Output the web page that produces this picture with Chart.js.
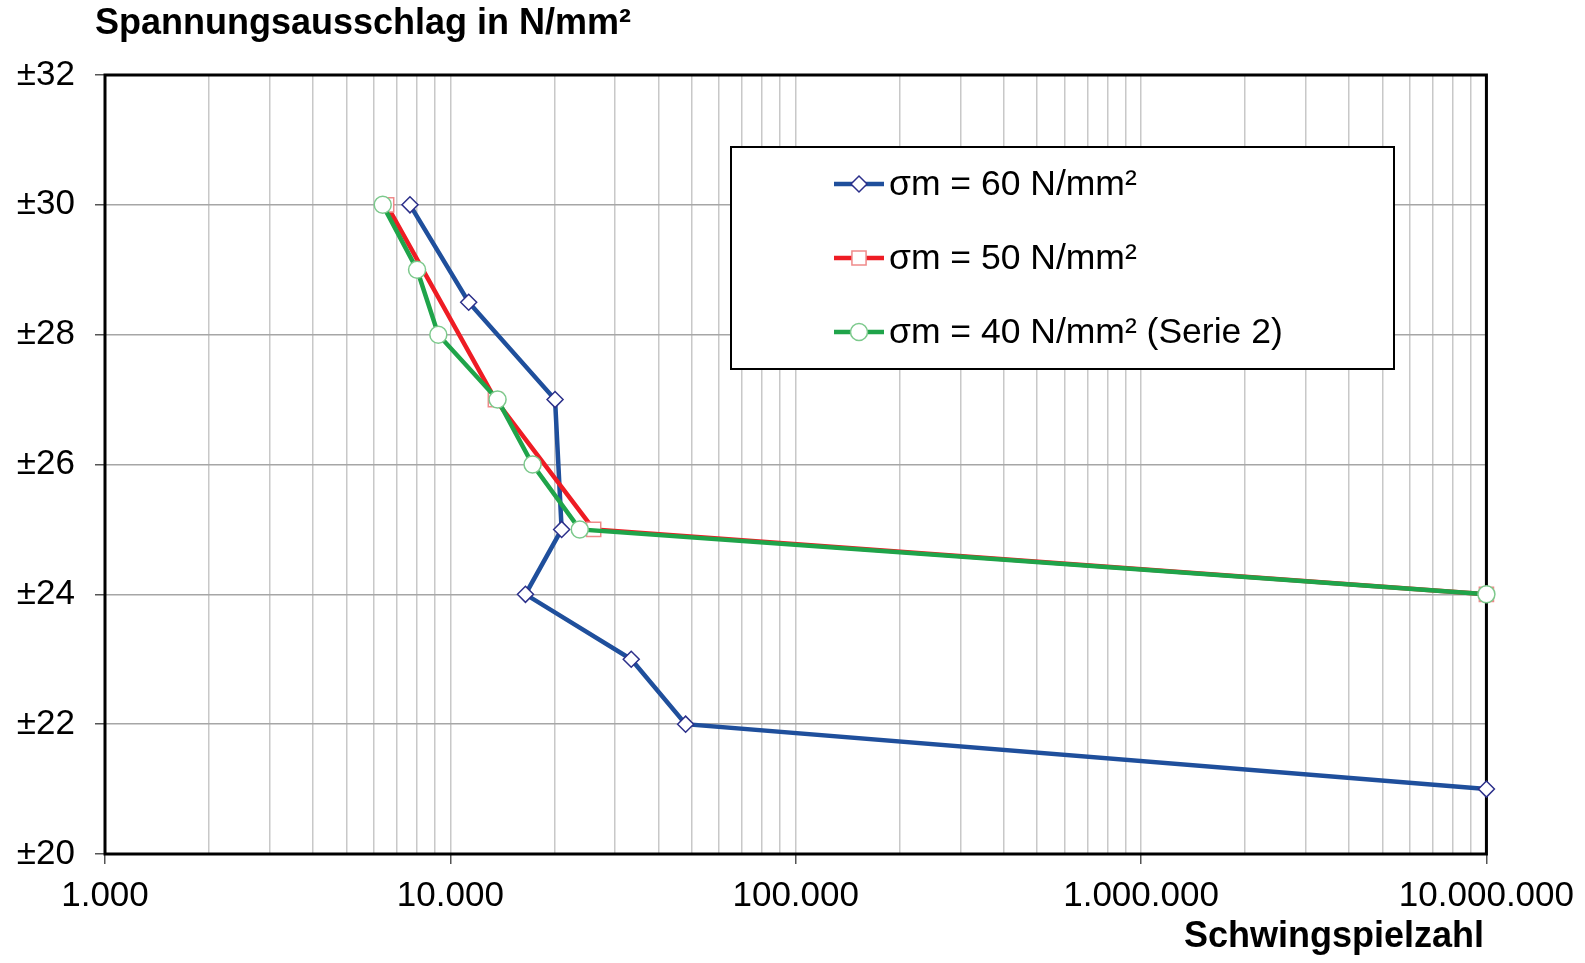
<!DOCTYPE html>
<html>
<head>
<meta charset="utf-8">
<script src="https://cdn.jsdelivr.net/npm/chart.js@4"></script>
<style>
  html, body { margin: 0; padding: 0; background: #fff; }
  #wrap { width: 1585px; height: 963px; }
</style>
</head>
<body>
<div id="wrap"><canvas id="sn-chart" width="1585" height="963"></canvas></div>
<script>
// Wöhler data
const yTicks = [20, 22, 24, 26, 28, 30, 32];
const xDecades = [1000, 10000, 100000, 1000000, 10000000];

const label60 = 'σm = 60 N/mm²';
const cycles60 = [7640, 11300, 20100, 21000, 16500, 33400, 48000, 10000000];
const stress60 = [30, 28.5, 27, 25, 24, 23, 22, 21];

const label50 = 'σm = 50 N/mm²';
const cycles50 = [6540, 13500, 26000, 10000000];
const stress50 = [30, 27, 25, 24];

const label40 = 'σm = 40 N/mm² (Serie 2)';
const cycles40 = [6370, 8010, 9230, 13700, 17300, 23700, 10000000];
const stress40 = [30, 29, 28, 27, 26, 25, 24];

const FONT = 'Liberation Sans, Arial, sans-serif';

function toPoints(xs, ys) {
    return xs.map((x, i) => ({ x: x, y: ys[i] }));
}

function isDecade(v) {
    return xDecades.indexOf(v) !== -1;
}

function fmtDots(v) {
    return String(v).replace(/\B(?=(\d{3})+(?!\d))/g, '.');
}

// Frame around the plot area, drawn under the lines
const framePlugin = {
    id: 'frame',
    beforeDatasetsDraw(chart) {
        const a = chart.chartArea;
        const ctx = chart.ctx;
        ctx.save();
        ctx.strokeStyle = '#000';
        ctx.lineWidth = 3;
        ctx.strokeRect(a.left, a.top, a.right - a.left, a.bottom - a.top);
        ctx.restore();
    }
};

// Axis titles and the boxed legend
const textPlugin = {
    id: 'texts',
    afterDraw(chart) {
        const ctx = chart.ctx;
        ctx.save();
        ctx.fillStyle = '#000';
        ctx.font = 'bold 36px ' + FONT;
        ctx.textBaseline = 'middle';
        ctx.textAlign = 'left';
        ctx.fillText('Spannungsausschlag in N/mm²', 95, 24);
        ctx.textAlign = 'right';
        ctx.fillText('Schwingspielzahl', 1484, 937);

        // legend box
        ctx.fillStyle = '#fff';
        ctx.fillRect(731, 147, 663, 222);
        ctx.strokeStyle = '#000';
        ctx.lineWidth = 2;
        ctx.strokeRect(731, 147, 663, 222);

        const rows = [184, 258, 332];
        chart.data.datasets.forEach((ds, i) => {
            const y = rows[i];
            ctx.strokeStyle = ds.borderColor;
            ctx.lineWidth = 4.5;
            ctx.beginPath();
            ctx.moveTo(834, y);
            ctx.lineTo(884, y);
            ctx.stroke();
            ctx.fillStyle = ds.pointBackgroundColor;
            ctx.strokeStyle = ds.pointBorderColor;
            ctx.lineWidth = ds.pointBorderWidth;
            Chart.helpers.drawPoint(ctx, {
                pointStyle: ds.pointStyle,
                radius: ds.pointRadius,
                borderWidth: ds.pointBorderWidth
            }, 859, y);
            ctx.fillStyle = '#000';
            ctx.font = '35.5px ' + FONT;
            ctx.textAlign = 'left';
            ctx.fillText(ds.label, 889, y + 1);
        });
        ctx.restore();
    }
};

const canvas = document.getElementById('sn-chart');
new Chart(canvas, {
    type: 'line',
    data: {
        datasets: [
            {
                label: label60,
                data: toPoints(cycles60, stress60),
                borderColor: '#1f4f9c',
                borderWidth: 4.5,
                pointStyle: 'rectRot',
                pointRadius: 8,
                pointBackgroundColor: '#fff',
                pointBorderColor: '#2b2f8a',
                pointBorderWidth: 1.5,
                order: 2
            },
            {
                label: label50,
                data: toPoints(cycles50, stress50),
                borderColor: '#ee1c24',
                borderWidth: 4.5,
                pointStyle: 'rect',
                pointRadius: 10,
                pointBackgroundColor: '#fff',
                pointBorderColor: '#ef8a8a',
                pointBorderWidth: 1.5,
                order: 1
            },
            {
                label: label40,
                data: toPoints(cycles40, stress40),
                borderColor: '#1fa44a',
                borderWidth: 4.5,
                pointStyle: 'circle',
                pointRadius: 8.5,
                pointBackgroundColor: '#fff',
                pointBorderColor: '#7cc98c',
                pointBorderWidth: 1.5,
                order: 0
            }
        ]
    },
    options: {
        responsive: false,
        animation: false,
        clip: false,
        layout: { padding: { left: 0, right: 97, top: 75, bottom: 0 } },
        plugins: {
            legend: { display: false },
            tooltip: { enabled: false }
        },
        elements: { line: { tension: 0 } },
        scales: {
            x: {
                type: 'logarithmic',
                min: 1000,
                max: 10000000,
                afterBuildTicks(scale) {
                    const ticks = [];
                    for (let d = 1000; d < 10000000; d *= 10) {
                        for (let k = 1; k <= 9; k++) ticks.push({ value: d * k });
                    }
                    ticks.push({ value: 10000000 });
                    scale.ticks = ticks;
                },
                afterFit(scale) { scale.height = 109; },
                border: { display: false },
                grid: {
                    color: '#c8c8c8',
                    lineWidth: 1.5,
                    tickLength: 10,
                    tickColor: ctx => (ctx.tick && isDecade(ctx.tick.value)) ? '#555' : 'rgba(0,0,0,0)'
                },
                ticks: {
                    autoSkip: false,
                    maxRotation: 0,
                    padding: 11,
                    color: '#000',
                    font: { family: FONT, size: 35 },
                    callback: v => isDecade(v) ? fmtDots(v) : ''
                }
            },
            y: {
                min: 20,
                max: 32,
                afterBuildTicks(scale) {
                    scale.ticks = yTicks.map(v => ({ value: v }));
                },
                afterFit(scale) { scale.width = 105; },
                border: { display: false },
                grid: {
                    color: '#a6a6a6',
                    lineWidth: 1.5,
                    tickLength: 10,
                    tickColor: '#555'
                },
                ticks: {
                    padding: 20,
                    color: '#000',
                    font: { family: FONT, size: 35 },
                    callback: v => '±' + v
                }
            }
        }
    },
    plugins: [framePlugin, textPlugin]
});
</script>
</body>
</html>
